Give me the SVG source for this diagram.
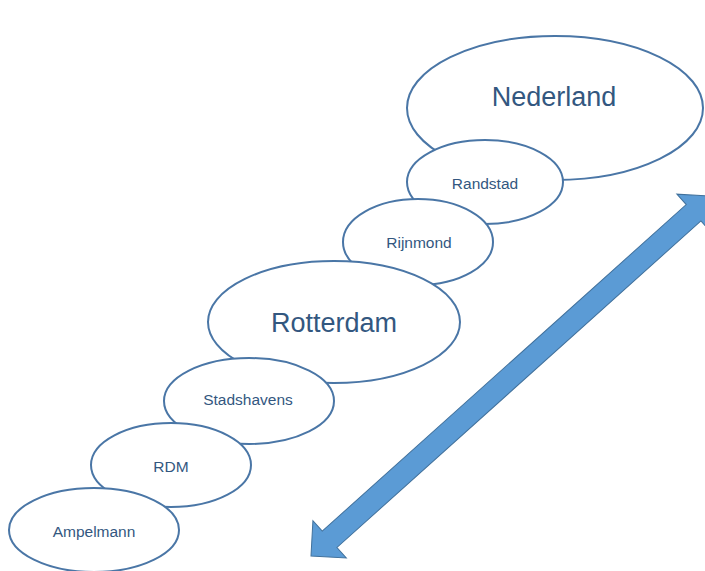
<svg xmlns="http://www.w3.org/2000/svg" width="705" height="571" viewBox="0 0 705 571">
<style>
.n ellipse{fill:#ffffff;stroke:#4a76a6;stroke-width:2}
.n text{font-family:"Liberation Sans",Arial,sans-serif;fill:#33577f;text-anchor:middle;font-size:15.5px}
.n text.big{font-size:27px}
.arrow{fill:#5b9bd5;stroke:#41719c;stroke-width:1}
</style>
<rect width="705" height="571" fill="#ffffff"/>
<g id="nederland" class="n"><ellipse cx="555" cy="108" rx="148" ry="72"/><text class="big" x="554" y="106">Nederland</text></g>
<g id="randstad" class="n"><ellipse cx="485" cy="182" rx="78" ry="42"/><text x="485" y="189">Randstad</text></g>
<g id="rijnmond" class="n"><ellipse cx="418" cy="242" rx="75" ry="43"/><text x="419" y="248">Rijnmond</text></g>
<g id="rotterdam" class="n"><ellipse cx="334" cy="322" rx="126" ry="61"/><text class="big" x="334" y="332">Rotterdam</text></g>
<g id="stadshavens" class="n"><ellipse cx="249" cy="401" rx="85" ry="43"/><text x="248" y="405">Stadshavens</text></g>
<g id="rdm" class="n"><ellipse cx="171" cy="465" rx="80" ry="42"/><text x="171" y="472">RDM</text></g>
<g id="ampelmann" class="n"><ellipse cx="94" cy="530" rx="85" ry="42"/><text x="94" y="537">Ampelmann</text></g>
<g id="connectors">
<path class="arrow" transform="translate(311,556) rotate(-41.9)" d="M0,0 L25,-25 L25,-11 L514,-11 L514,-25 L539,0 L514,25 L514,11 L25,11 L25,25 Z"/>
</g>
</svg>
